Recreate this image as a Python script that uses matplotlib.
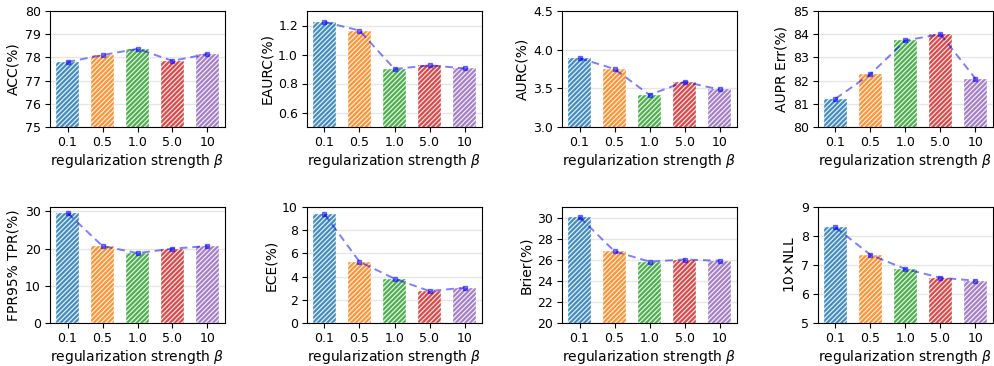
import numpy as np
import matplotlib
matplotlib.use('Agg')
import matplotlib.pyplot as plt

betas = ['0.1', '0.5', '1.0', '5.0', '10']
colors = ['tab:blue', 'tab:orange', 'tab:green', 'tab:red', 'tab:purple']

acc = [77.8, 78.1, 78.37, 77.85, 78.15]
eaurc = [1.225, 1.165, 0.90, 0.925, 0.905]
aurc = [3.89, 3.75, 3.415, 3.585, 3.485]
aupr_err = [81.22, 82.28, 83.73, 84.0, 82.08]
fpr95 = [29.6, 20.7, 18.8, 20.0, 20.7]
ece = [9.38, 5.28, 3.82, 2.75, 3.05]
brier = [30.05, 26.8, 25.82, 26.02, 25.9]
nll10 = [8.3, 7.35, 6.86, 6.56, 6.46]

panels = [
    (acc, 'ACC(%)', (75, 80), [75, 76, 77, 78, 79, 80]),
    (eaurc, 'EAURC(%)', (0.5, 1.3), [0.6, 0.8, 1.0, 1.2]),
    (aurc, 'AURC(%)', (3.0, 4.5), [3.0, 3.5, 4.0, 4.5]),
    (aupr_err, 'AUPR Err(%)', (80, 85), [80, 81, 82, 83, 84, 85]),
    (fpr95, 'FPR95% TPR(%)', (0, 31.2), [0, 10, 20, 30]),
    (ece, 'ECE(%)', (0, 10), [0, 2, 4, 6, 8, 10]),
    (brier, 'Brier(%)', (20, 31), [20, 22, 24, 26, 28, 30]),
    (nll10, r'10$\times$NLL', (5, 9), [5, 6, 7, 8, 9]),
]

plt.rcParams['hatch.linewidth'] = 0.9

fig = plt.figure(figsize=(9.95, 3.66), dpi=100)
W, H = 995.0, 366.0
lefts = [50, 307, 562, 818]
tops = [11, 207]
aw, ah = 175, 116

x = np.arange(len(betas))
for i, (vals, ylabel, ylim, yticks) in enumerate(panels):
    r, c = divmod(i, 4)
    ax = fig.add_axes([lefts[c] / W, 1 - (tops[r] + ah) / H, aw / W, ah / H])
    ax.grid(axis='y', color='#e6e6e6', linewidth=1.0, zorder=0)
    ax.set_axisbelow(True)
    ax.bar(x, vals, width=0.68, color=colors, alpha=0.85, hatch='///////',
           edgecolor='white', linewidth=0.3, zorder=2)
    ax.plot(x, vals, '--', color='blue', alpha=0.5, marker='s',
            markersize=3.5, linewidth=1.4, dashes=(4, 2.5), zorder=3)
    ax.set_xlim(-0.5, 4.5)
    ax.set_ylim(*ylim)
    ax.set_yticks(yticks)
    ax.set_xticks(x)
    ax.set_xticklabels(betas, fontsize=9)
    ax.tick_params(axis='both', labelsize=9, pad=3)
    ax.set_ylabel(ylabel, fontsize=10, labelpad=3)
    ax.set_xlabel(r'regularization strength $\beta$', fontsize=10, labelpad=2)

fig.savefig('out.png', dpi=100)
